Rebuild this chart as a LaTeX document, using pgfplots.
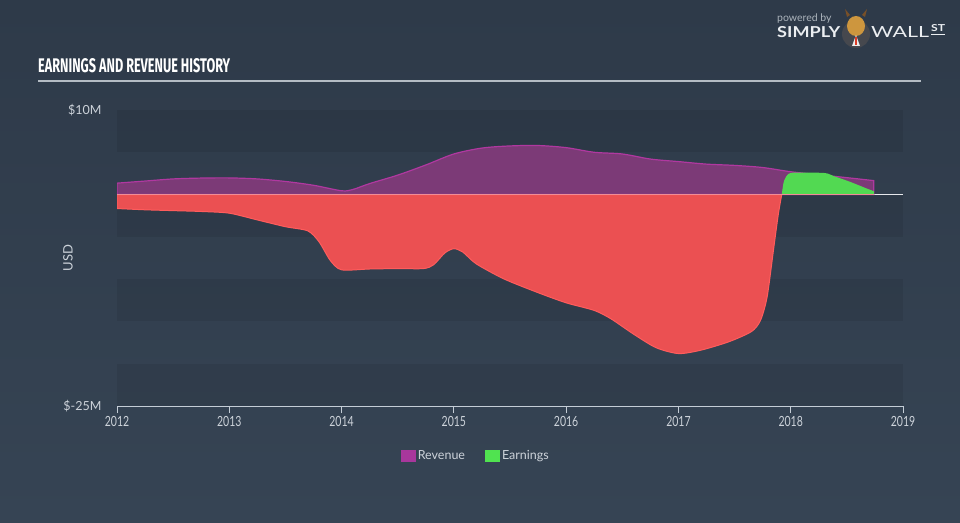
\documentclass[border=0pt]{standalone}
\usepackage{fontspec}
\usepackage{graphicx}
\usepackage{pgfplots}
\pgfplotsset{compat=1.18}
\setmainfont{Lato}
\newfontfamily\titlefont{Fira Sans}
\definecolor{bgtop}{RGB}{46,58,73}
\definecolor{bgbot}{RGB}{54,68,84}
\definecolor{revfill}{RGB}{124,58,119}
\definecolor{revline}{RGB}{176,56,160}
\definecolor{redfill}{RGB}{235,80,82}
\definecolor{redline}{RGB}{255,92,92}
\definecolor{greenfill}{RGB}{82,217,82}
\definecolor{legrev}{RGB}{168,55,156}
\definecolor{leggreen}{RGB}{80,227,80}
\definecolor{txt}{RGB}{205,211,218}
\definecolor{axisc}{RGB}{196,205,214}
\definecolor{zeroc}{RGB}{230,232,236}
\begin{document}
\begin{tikzpicture}[x=1pt,y=1pt]
\shade[top color=bgtop,bottom color=bgbot] (0,0) rectangle (960,522);
% title
\node[anchor=base west,inner sep=0pt,text=white] at (38,449) {\resizebox{192pt}{14pt}{\titlefont\bfseries EARNINGS AND REVENUE HISTORY}};
\draw[color={rgb,255:red,180;green,188;blue,196},line width=1.5pt] (38,441) -- (921,441);
% logo
\node[anchor=base west,inner sep=0pt,text={rgb,255:red,172;green,180;blue,188}] at (777,500) {\fontsize{10.5}{12}\selectfont powered by};
\node[anchor=base west,inner sep=0pt,text={rgb,255:red,235;green,238;blue,241}] at (777,484) {\resizebox{63pt}{11pt}{\bfseries SIMPLY}};
\fill[color={rgb,255:red,70;green,72;blue,78}] (856,488) circle (14);
\fill[color={rgb,255:red,205;green,150;blue,62}] (856,496) ellipse (9 and 10);
\fill[color={rgb,255:red,120;green,80;blue,40}] (847,505) -- (845,513) -- (850,507) -- cycle;
\fill[color={rgb,255:red,120;green,80;blue,40}] (865,505) -- (867,513) -- (862,507) -- cycle;
\fill[color={rgb,255:red,235;green,235;blue,235}] (852,476) -- (860,476) -- (856,487) -- cycle;
\fill[color={rgb,255:red,220;green,60;blue,40}] (855,477) rectangle (857,485);
\node[anchor=base west,inner sep=0pt,text={rgb,255:red,235;green,238;blue,241}] at (871,484) {\resizebox{58pt}{11pt}{WALL}};
\node[anchor=base west,inner sep=0pt,text={rgb,255:red,235;green,238;blue,241}] at (931,490) {\resizebox{14pt}{7pt}{\bfseries ST}};
\draw[color={rgb,255:red,235;green,238;blue,241},line width=1pt] (931,487) -- (945,487);
\begin{axis}[
  at={(117pt,116pt)}, anchor=south west,
  width=786pt, height=296pt, scale only axis,
  xmin=2012, xmax=2019, ymin=-25, ymax=10,
  axis x line*=bottom, axis y line*=left,
  x axis line style={draw=axisc,line width=1pt},
  y axis line style={draw=none},
  xtick={2012,2013,2014,2015,2016,2017,2018,2019},
  xticklabels={2012,2013,2014,2015,2016,2017,2018,2019},
  ytick={-25,10},
  yticklabels={\$-25M,\$10M},
  tick align=outside,
  major tick length=7pt,
  xtick style={draw=axisc,line width=0.8pt},
  ytick style={draw=none},
  /pgf/number format/assume math mode=true,
  xticklabel style={text=txt,font=\fontsize{14}{15}\selectfont,xscale=0.75,yshift=0pt},
  yticklabel style={text=txt,font=\fontsize{12.5}{14}\selectfont,anchor=east,xshift=-5pt},
  ylabel={USD},
  ylabel style={at={(axis description cs:-0.0623,0.5)},anchor=center,rotate=0,text=txt,font=\fontsize{13}{14}\selectfont},
  legend style={at={(axis description cs:0.4565,-0.169)},anchor=center,draw=none,fill=none,
    text=txt,font=\fontsize{12.5}{14}\selectfont,legend columns=2,
    /tikz/every even column/.append style={column sep=18pt}},
  legend image code/.code={\path[#1] (0pt,-6pt) rectangle (15pt,6pt);},
  clip=true,
]
% background bands
\fill[black,opacity=0.07] (axis cs:2012,5) rectangle (axis cs:2019,10);
\fill[black,opacity=0.07] (axis cs:2012,-5) rectangle (axis cs:2019,0);
\fill[black,opacity=0.07] (axis cs:2012,-15) rectangle (axis cs:2019,-10);
\fill[black,opacity=0.07] (axis cs:2012,-25) rectangle (axis cs:2019,-20);
\draw[zeroc,line width=1pt] (axis cs:2012,0) -- (axis cs:2019,0);
% revenue
\addplot[forget plot,draw=revline,line width=1.2pt,fill=revfill,smooth,tension=0.5] coordinates {
(2012.0,1.35) (2012.25,1.6) (2012.5,1.85) (2012.75,1.95) (2013.0,1.97)
(2013.25,1.85) (2013.5,1.55) (2013.75,1.1) (2014.0,0.45) (2014.1,0.6)
(2014.25,1.3) (2014.5,2.3) (2014.75,3.5) (2015.0,4.8) (2015.25,5.5)
(2015.5,5.75) (2015.75,5.8) (2016.0,5.55) (2016.25,5.0) (2016.5,4.8)
(2016.75,4.2) (2017.0,3.9) (2017.25,3.6) (2017.5,3.45) (2017.75,3.2)
(2018.0,2.7) (2018.25,2.35) (2018.5,2.0) (2018.74,1.65)
} \closedcycle;
% earnings negative
\addplot[forget plot,draw=redline,line width=1pt,fill=redfill,smooth,tension=0.45] coordinates {
(2012.0,-1.65) (2012.25,-1.8) (2012.5,-1.9) (2012.75,-2.0) (2013.0,-2.2)
(2013.25,-3.0) (2013.5,-3.8) (2013.7,-4.3) (2013.8,-5.6) (2013.9,-7.8)
(2014.0,-8.9) (2014.25,-8.8) (2014.5,-8.75) (2014.73,-8.75) (2014.82,-8.3)
(2014.92,-6.9) (2015.0,-6.4) (2015.08,-6.8) (2015.2,-8.2) (2015.45,-10.0)
(2015.75,-11.6) (2016.0,-12.8) (2016.25,-13.7) (2016.4,-14.7) (2016.6,-16.5)
(2016.8,-18.1) (2017.0,-18.8) (2017.2,-18.4) (2017.45,-17.4) (2017.65,-16.2)
(2017.73,-14.9) (2017.79,-12.1) (2017.85,-6.2) (2017.89,-2.3) (2017.92,0)
} \closedcycle;
% earnings positive
\addplot[forget plot,draw=none,fill=greenfill,smooth,tension=0.45] coordinates {
(2017.92,0) (2017.94,1.6) (2017.98,2.45) (2018.05,2.6) (2018.3,2.55)
(2018.38,2.2) (2018.53,1.5) (2018.68,0.7) (2018.74,0.4)
} \closedcycle;
\draw[color={rgb,255:red,240;green,140;blue,150},line width=0.8pt] (axis cs:2012,0) -- (axis cs:2018.74,0);
\addlegendimage{fill=legrev,draw=none}
\addlegendentry{Revenue}
\addlegendimage{fill=leggreen,draw=none}
\addlegendentry{Earnings}
\end{axis}
\pgfresetboundingbox
\useasboundingbox (0,0) rectangle (960,522);
\end{tikzpicture}
\end{document}
